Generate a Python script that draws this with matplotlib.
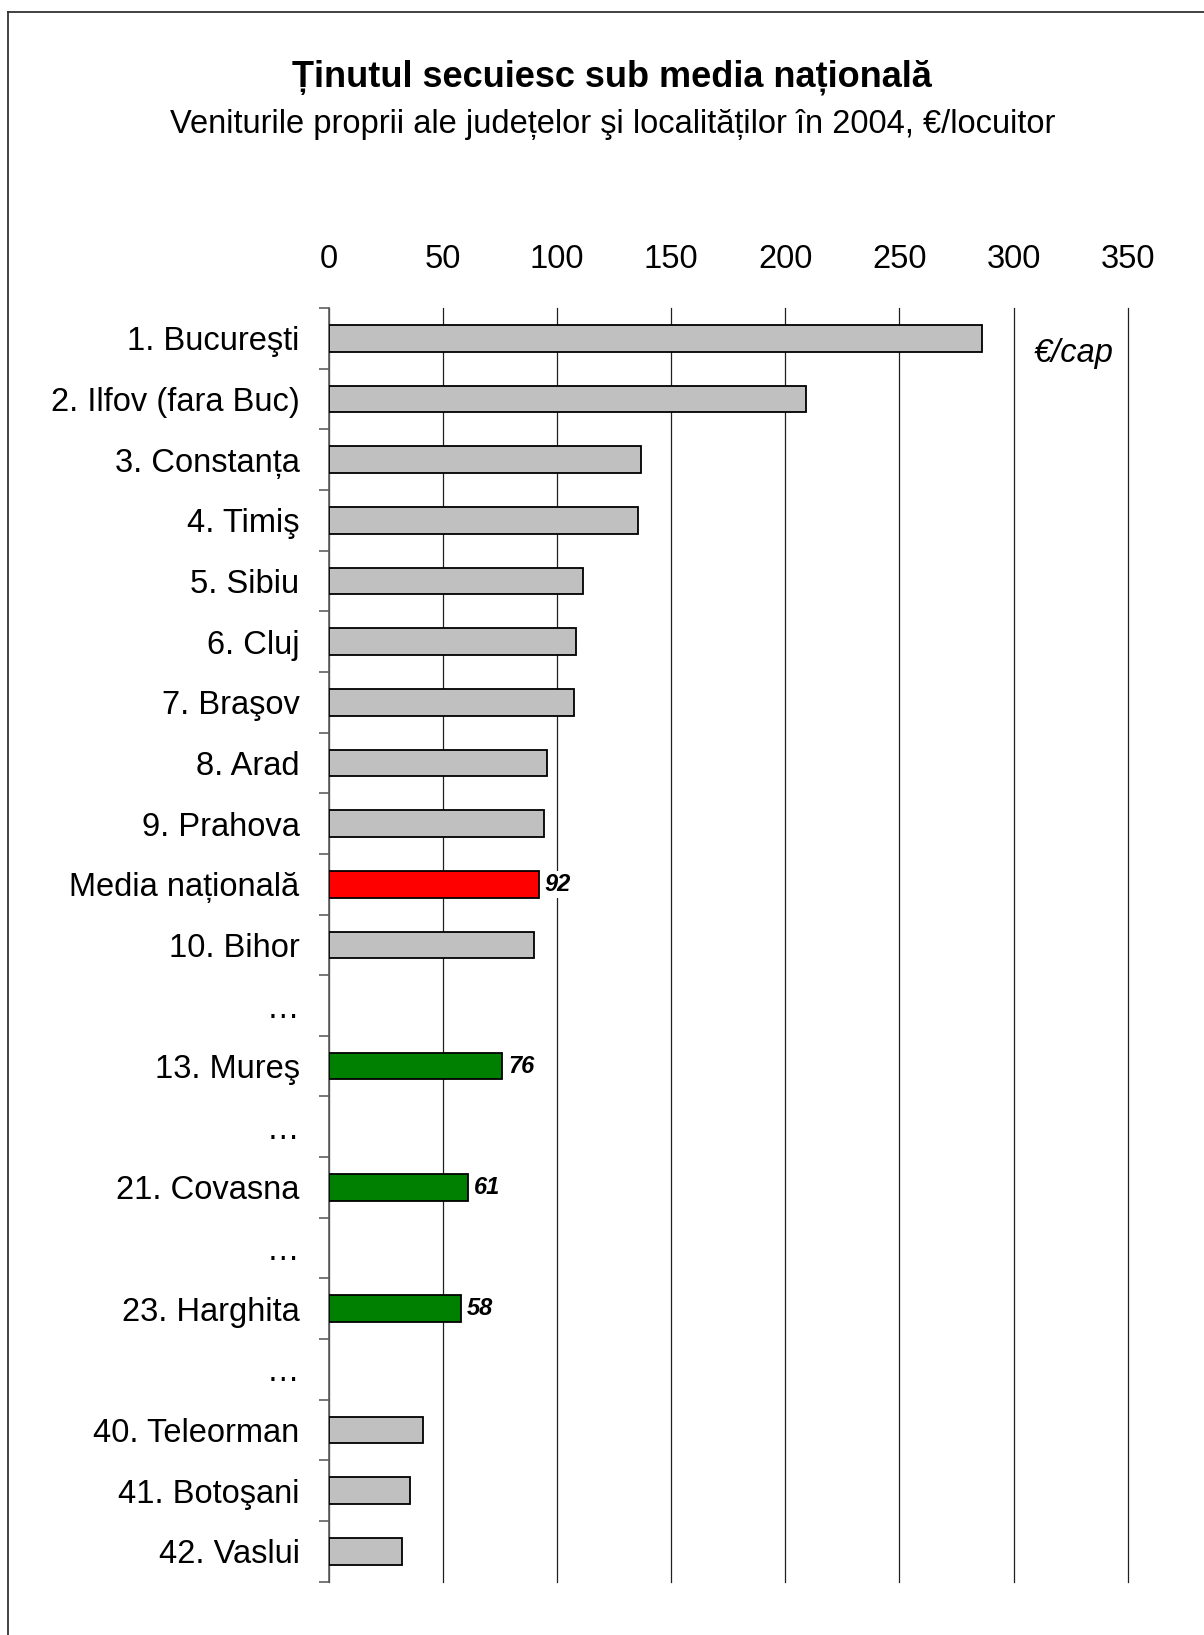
import numpy as np
import matplotlib
matplotlib.use('Agg')
import matplotlib.pyplot as plt
from matplotlib.lines import Line2D

# --- Datele graficului ---
judete = ['1. Bucureşti', '2. Ilfov (fara Buc)', '3. Constanța', '4. Timiş', '5. Sibiu',
          '6. Cluj', '7. Braşov', '8. Arad', '9. Prahova', 'Media națională',
          '10. Bihor', '…', '13. Mureş', '…', '21. Covasna', '…', '23. Harghita', '…',
          '40. Teleorman', '41. Botoşani', '42. Vaslui']
venituri = [286, 209, 137, 135.5, 111.5, 108.5, 107.5, 95.5, 94.5, 92,
            90, np.nan, 76, np.nan, 61, np.nan, 58, np.nan,
            41.5, 35.5, 32]
media_nationala = 'Media națională'
judete_secuiesti = ['13. Mureş', '21. Covasna', '23. Harghita']
ticks_x = [0, 50, 100, 150, 200, 250, 300, 350]

titlu = 'Ținutul secuiesc sub media națională'
subtitlu = 'Veniturile proprii ale județelor şi localităților în 2004, €/locuitor'
unitate = '€/cap'

plt.rcParams['font.family'] = ['Liberation Sans', 'DejaVu Sans']

W, H = 1204, 1635
fig = plt.figure(figsize=(W / 100, H / 100), dpi=100)
ax = fig.add_axes([328.7 / W, 1 - 1581.7 / H, (1127.8 - 328.7) / W, (1581.7 - 308) / H])

n = len(judete)
y = np.arange(n)
vals = np.array(venituri, dtype=float)

# doar randurile cu valoare primesc bara ("…" raman goale)
idx = [i for i in range(n) if not np.isnan(vals[i])]
culori = []
for i in idx:
    nume = judete[i]
    if nume == media_nationala:
        culori.append('#FF0000')
    elif nume in judete_secuiesti:
        culori.append('#008000')
    else:
        culori.append('#C0C0C0')

ax.barh(y[idx], vals[idx], height=0.44, color=culori, edgecolor='black',
        linewidth=1.3, zorder=3)

# etichete de valoare doar pentru media si judetele secuiesti
for i, nume in enumerate(judete):
    if nume == media_nationala or nume in judete_secuiesti:
        ax.text(vals[i] + 2.6, i, f'{vals[i]:g}', fontsize=17, fontweight='bold',
                fontstyle='italic', va='center', ha='left', zorder=4,
                bbox=dict(facecolor='white', edgecolor='none', pad=1.5))

ax.text(309, 0.25, unitate, fontsize=23.5, fontstyle='italic', va='center', ha='left')

ax.set_xlim(0, 350)
ax.set_ylim(n - 0.5, -0.5)
ax.set_xticks(ticks_x)
ax.xaxis.tick_top()
ax.tick_params(axis='x', length=0, pad=24, labelsize=23.5)
ax.grid(axis='x', color='#202020', linewidth=0.9, zorder=0)
ax.set_axisbelow(True)
for gl in ax.get_xgridlines():
    gl.set_clip_on(False)

ax.set_yticks(y)
ax.set_yticklabels(judete)
ax.set_yticks(np.arange(n + 1) - 0.5, minor=True)
ax.tick_params(axis='y', which='major', length=0, pad=21, labelsize=23.5)
ax.tick_params(axis='y', which='minor', length=7.5, width=1.2, color='#606060', direction='out')

for s in ['top', 'right', 'bottom']:
    ax.spines[s].set_visible(False)
ax.spines['left'].set_color('#606060')
ax.spines['left'].set_linewidth(1.2)

fig.text(0.508, 1 - 77 / H, titlu, fontsize=26, fontweight='bold', ha='center', va='center')
fig.text(0.509, 1 - 125 / H, subtitlu, fontsize=23.5, ha='center', va='center')

# cadrul (doar marginea de sus si din stanga sunt vizibile)
y_sus = 1 - 11.7 / H
x_st = 8.3 / W
fig.add_artist(Line2D([x_st, 1], [y_sus, y_sus], transform=fig.transFigure,
                      color='#333333', linewidth=1.3))
fig.add_artist(Line2D([x_st, x_st], [0, y_sus], transform=fig.transFigure,
                      color='#333333', linewidth=1.3))

fig.savefig('out.png', dpi=100, facecolor='white')
